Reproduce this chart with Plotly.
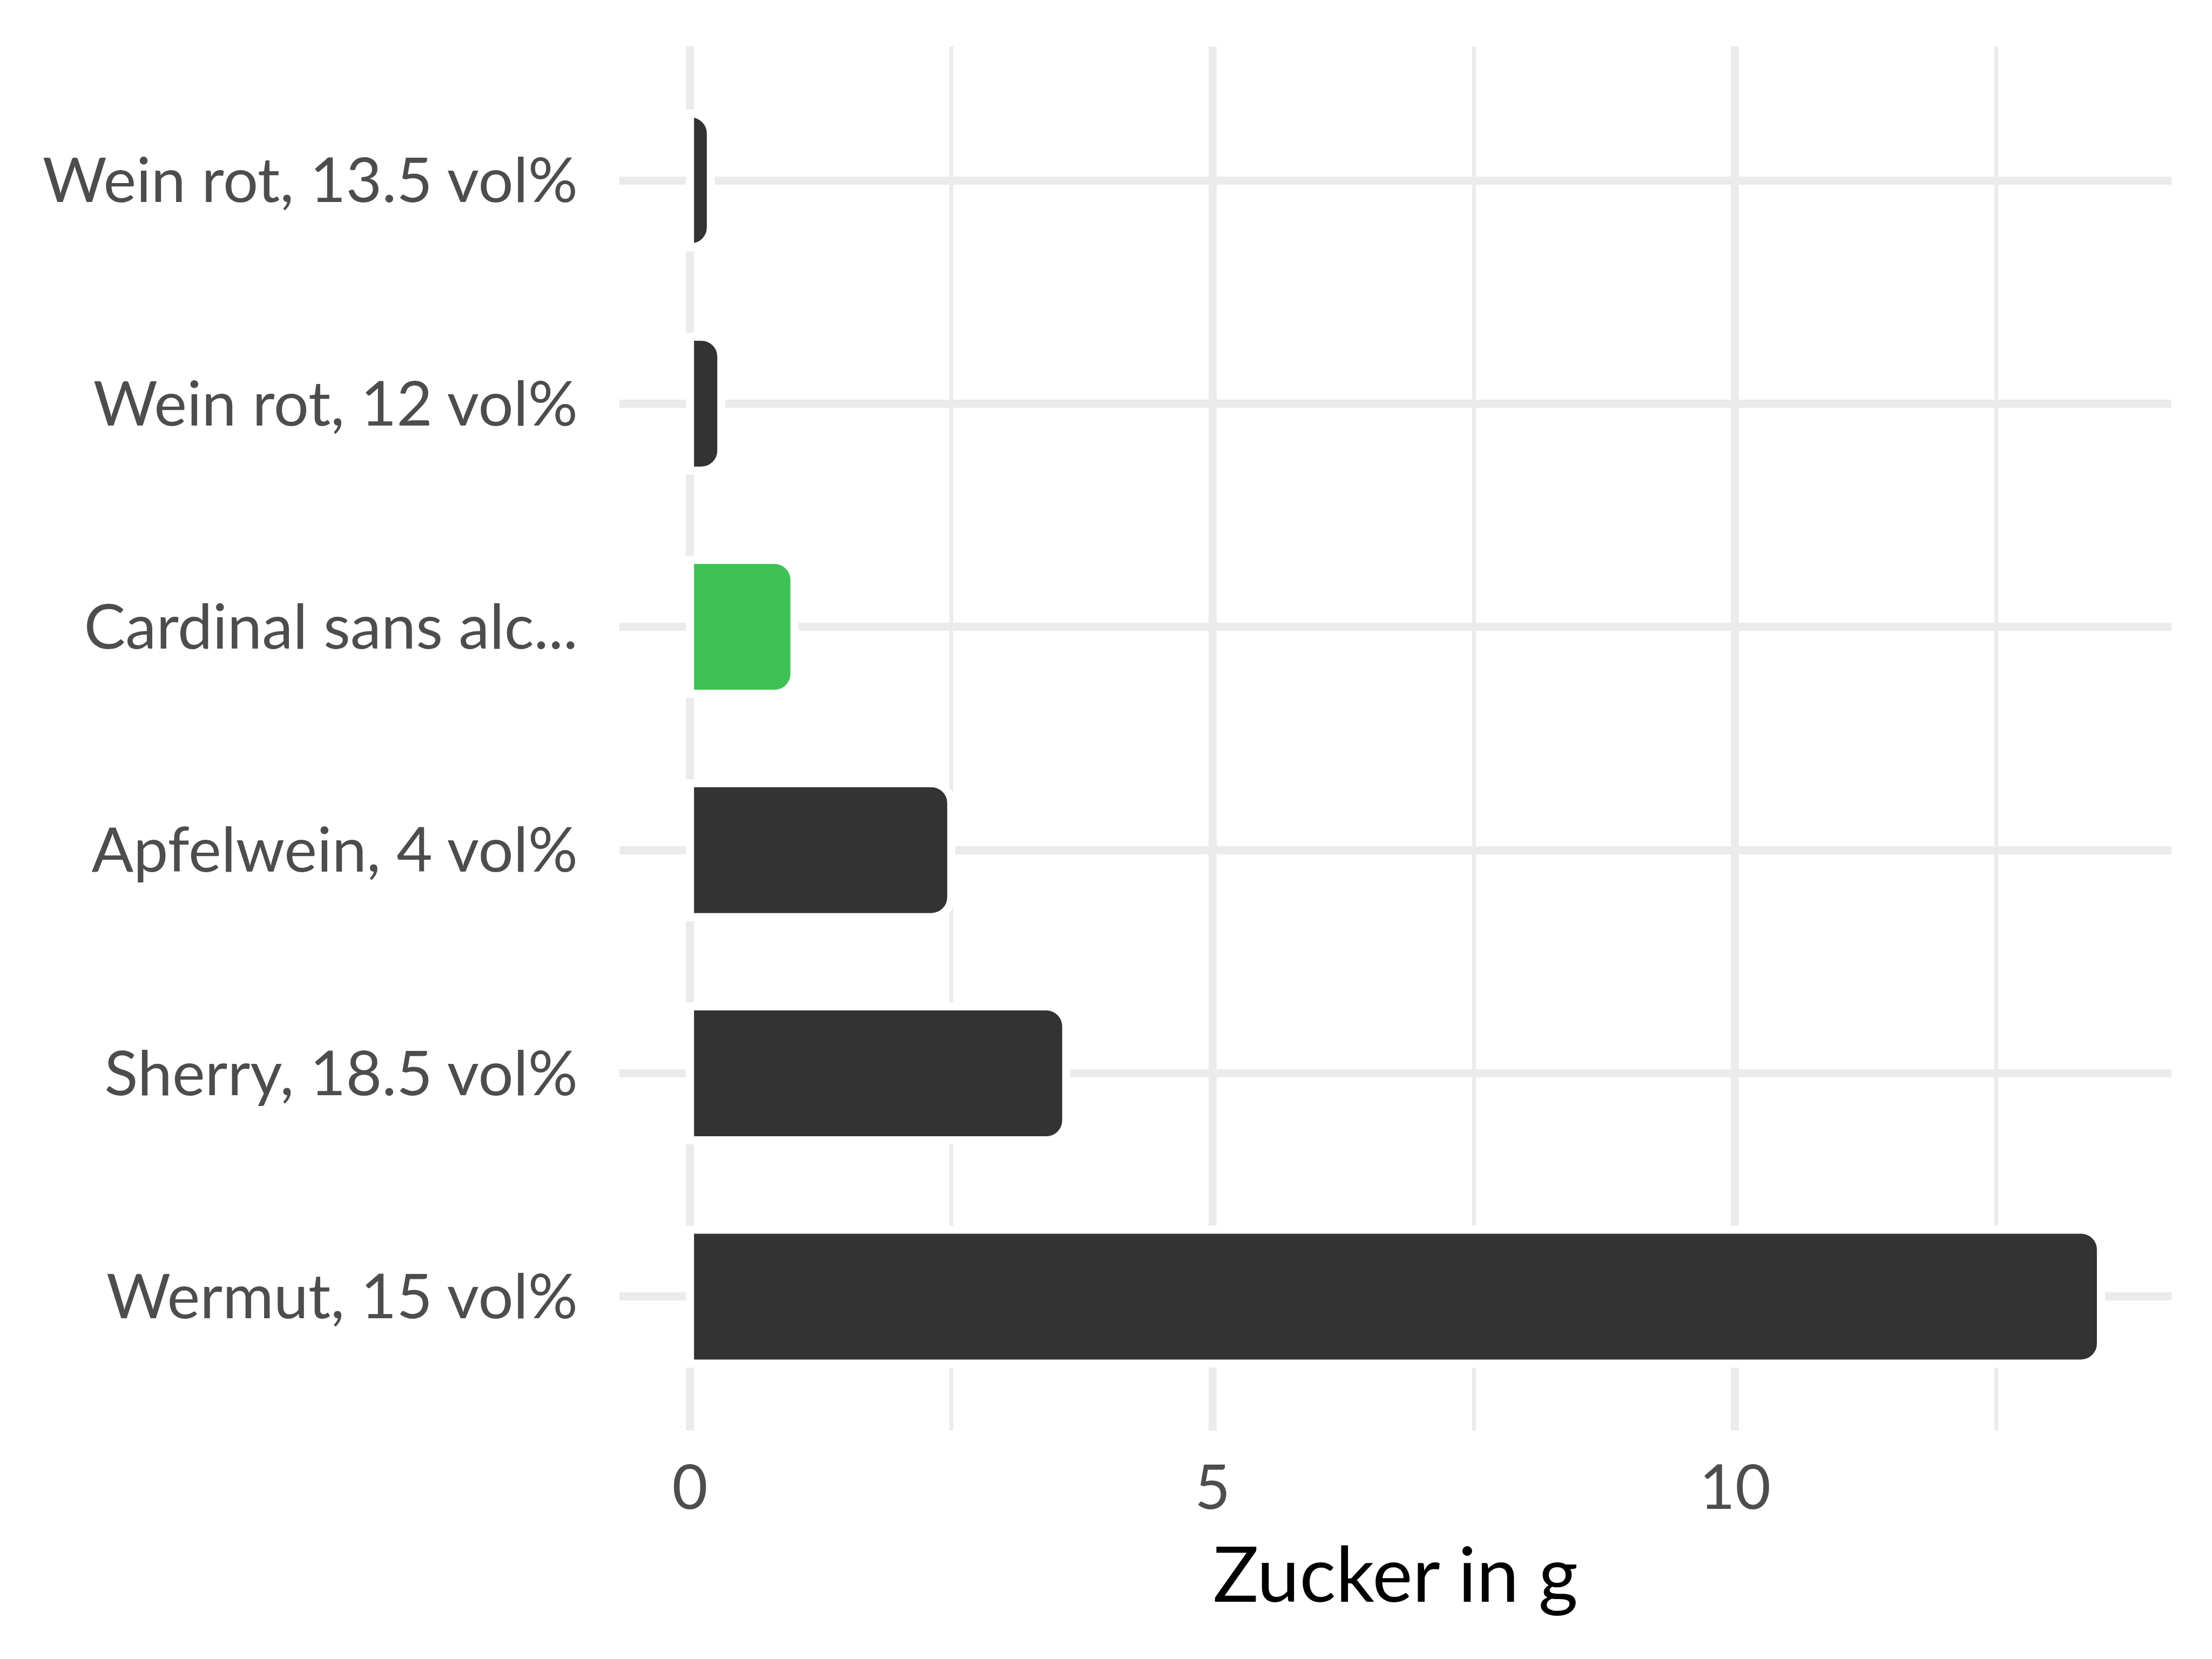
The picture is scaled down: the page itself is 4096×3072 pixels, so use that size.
import plotly.graph_objects as go

categories = ["Wein rot, 13.5 vol%", "Wein rot, 12 vol%", "Cardinal sans alc...",
              "Apfelwein, 4 vol%", "Sherry, 18.5 vol%", "Wermut, 15 vol%"]
values = [0.2, 0.3, 1.0, 2.5, 3.6, 13.5]
colors = ["#333333", "#333333", "#3EC256", "#333333", "#333333", "#333333"]
x_ticks = [0, 5, 10]

fig = go.Figure(go.Bar(
    x=values, y=categories, orientation="h",
    width=0.6,
    marker=dict(color=colors, line=dict(color="white", width=15), cornerradius=37),
))

font_family = "Lato"
fig.update_layout(
    width=4096, height=3072,
    paper_bgcolor="white", plot_bgcolor="white",
    margin=dict(l=1139, r=83, t=78, b=431, autoexpand=False),
    showlegend=False,
    font=dict(family=font_family, color="#4D4D4D"),
)
fig.update_xaxes(
    range=[-0.675, 14.175],
    tickvals=x_ticks, ticktext=[str(v) for v in x_ticks],
    tickfont=dict(size=114, color="#4D4D4D"),
    showgrid=True, gridcolor="#EBEBEB", gridwidth=14.5,
    minor=dict(tickvals=[2.5, 7.5, 12.5], showgrid=True, gridcolor="#EBEBEB", gridwidth=7),
    zeroline=False, showline=False, ticks="",
    ticklabelstandoff=30,
    title=dict(text="Zucker in g", font=dict(size=141, color="black"), standoff=50),
)
fig.update_yaxes(
    range=[5.6, -0.6],
    categoryorder="array", categoryarray=categories,
    tickfont=dict(size=115, color="#4D4D4D"),
    showgrid=True, gridcolor="#EBEBEB", gridwidth=14.5,
    zeroline=False, showline=False, ticks="",
    ticklabelstandoff=76,
)
fig.write_html("out.html")
